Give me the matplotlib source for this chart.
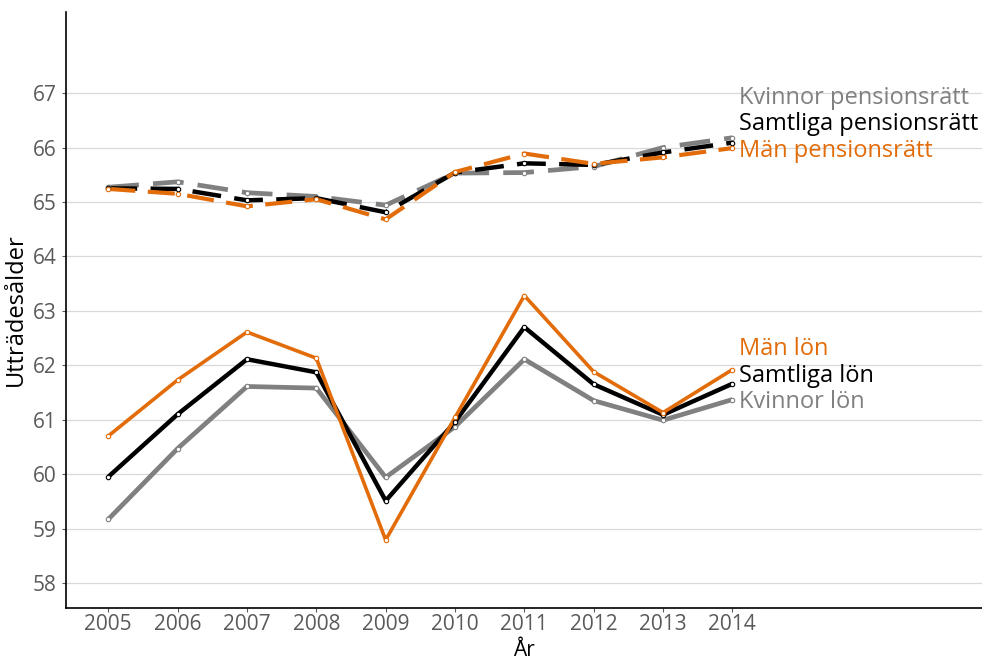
import matplotlib.pyplot as plt

years = [2005, 2006, 2007, 2008, 2009, 2010, 2011, 2012, 2013, 2014]

man_lon = [60.70, 61.73, 62.61, 62.13, 58.79, 61.04, 63.28, 61.88, 61.13, 61.92]
samtliga_lon = [59.95, 61.10, 62.11, 61.87, 59.51, 60.96, 62.70, 61.65, 61.09, 61.66]
kvinnor_lon = [59.17, 60.47, 61.61, 61.58, 59.94, 60.87, 62.11, 61.35, 60.99, 61.37]

man_pr = [65.24, 65.15, 64.92, 65.05, 64.68, 65.55, 65.89, 65.70, 65.82, 65.99]
samtliga_pr = [65.25, 65.24, 65.03, 65.07, 64.81, 65.54, 65.71, 65.68, 65.91, 66.09]
kvinnor_pr = [65.27, 65.37, 65.17, 65.10, 64.94, 65.53, 65.54, 65.65, 66.00, 66.18]

yticks = [58, 59, 60, 61, 62, 63, 64, 65, 66, 67]

orange = "#e36c0a"
gray = "#808080"
black = "#000000"

fig = plt.figure(figsize=(9.82, 6.61), dpi=100)
ax = fig.add_axes([66/982, 1-608/661, (982-66)/982, (608-12)/661])

for y in yticks:
    ax.axhline(y, color="#d9d9d9", lw=0.9, zorder=0)

dash = (0, (6.5, 3))
series = [
    (kvinnor_pr, gray, dash, 3.4),
    (samtliga_pr, black, dash, 3.2),
    (man_pr, orange, dash, 3.0),
    (kvinnor_lon, gray, "-", 3.4),
    (samtliga_lon, black, "-", 3.2),
    (man_lon, orange, "-", 2.6),
]
for vals, col, ls, lw in series:
    ax.plot(years, vals, color=col, linestyle=ls, lw=lw, zorder=2,
            solid_capstyle="butt", dash_capstyle="butt")
    ax.plot(years, vals, "o", ms=3.2, mfc="white", mec=col, mew=0.8,
            linestyle="none", zorder=3)

labels = [
    ("Kvinnor pensionsrätt", 66.91, gray),
    ("Samtliga pensionsrätt", 66.43, black),
    ("Män pensionsrätt", 65.93, orange),
    ("Män lön", 62.30, orange),
    ("Samtliga lön", 61.80, black),
    ("Kvinnor lön", 61.32, gray),
]
for txt, y, col in labels:
    ax.text(2014.09, y, txt, color=col, fontsize=17, va="center", ha="left",
            family="Open Sans")

ax.set_xlim(2004.39, 2017.6)
ax.set_ylim(57.54, 68.49)
ax.set_xticks(years)
ax.set_yticks(yticks)
ax.tick_params(axis="both", colors="#5a5a5a", labelsize=15, length=3,
               width=0.8)
ax.tick_params(axis="x", pad=1)
for lab in ax.get_xticklabels() + ax.get_yticklabels():
    lab.set_family("Open Sans")
ax.spines["top"].set_visible(False)
ax.spines["right"].set_visible(False)
ax.spines["left"].set_linewidth(1.2)
ax.spines["bottom"].set_linewidth(1.2)
ax.set_xlabel("År", fontsize=15, family="Open Sans", labelpad=4)
ax.set_ylabel("Utträdesålder", fontsize=17, family="Open Sans", labelpad=4)

fig.savefig("out.png", dpi=100)
